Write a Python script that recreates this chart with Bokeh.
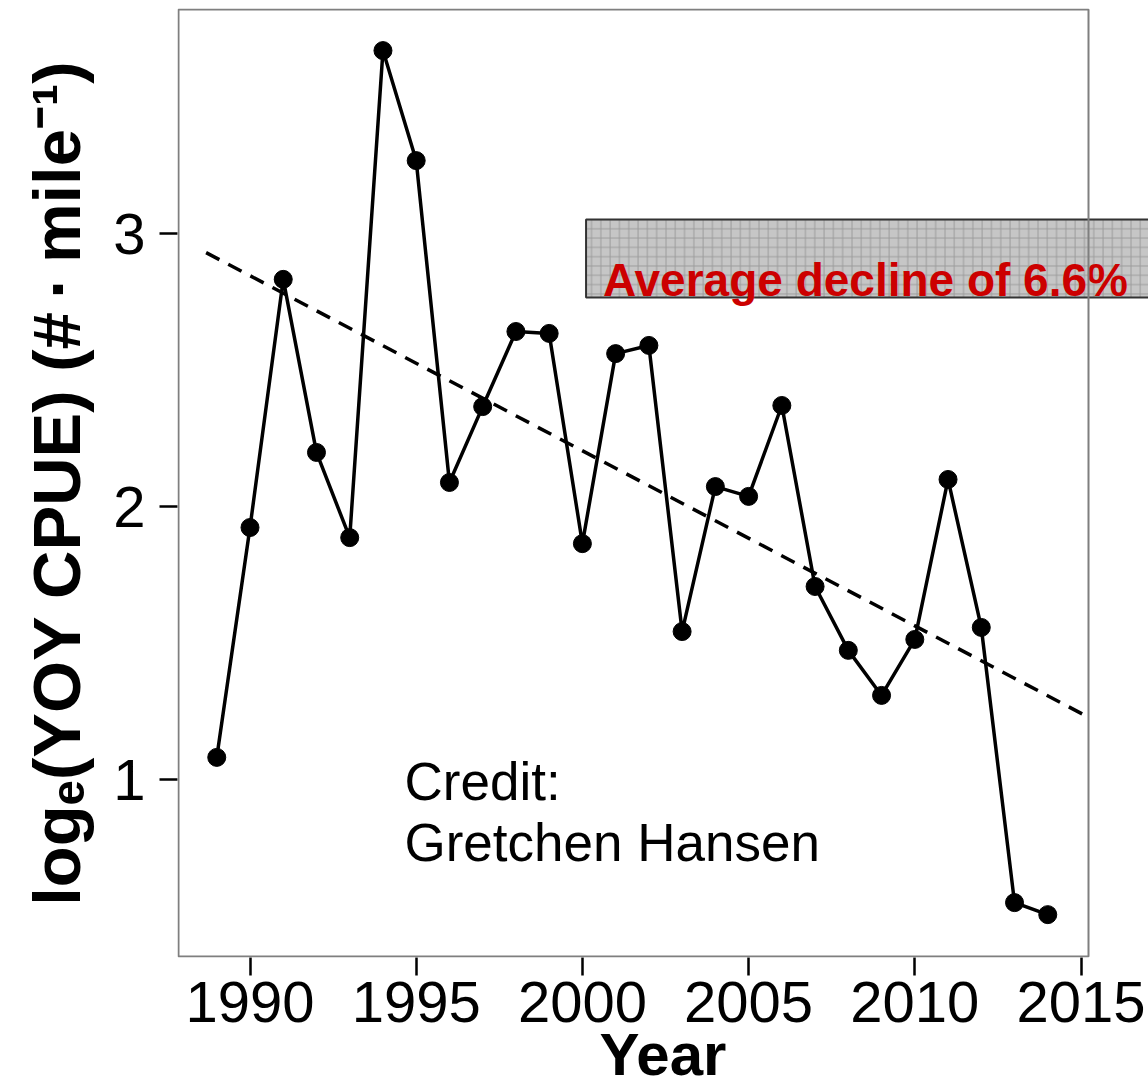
from bokeh.plotting import figure
from bokeh.models import Range1d, FixedTicker, Label, BoxAnnotation
from bokeh.embed import file_html
from bokeh.resources import INLINE

# ---- data ----
years = [1989, 1990, 1991, 1992, 1993, 1994, 1995, 1996, 1997, 1998, 1999, 2000, 2001,
         2002, 2003, 2004, 2005, 2006, 2007, 2008, 2009, 2010, 2011, 2012, 2013, 2014]
log_cpue = [1.081, 1.923, 2.832, 2.198, 1.886, 3.670, 3.267, 2.088, 2.366, 2.641, 2.634,
            1.864, 2.560, 2.590, 1.542, 2.073, 2.037, 2.370, 1.707, 1.473, 1.308, 1.513,
            2.099, 1.557, 0.549, 0.505]
trend_years = [1988.68, 2015.18]
trend_vals = [2.930, 1.231]
x_ticks = [1990, 1995, 2000, 2005, 2010, 2015]
y_ticks = [1, 2, 3]
note_text = "Average decline of 6.6%"
credit_lines = ["Credit:", "Gretchen Hansen"]
x_title = "Year"
y_title = "log\u2091(YOY CPUE) (#\u2009\u00b7\u2009mile\u207b\u00b9)"

FONT = "Liberation Sans"
W, H = 1148, 1092

# ---- geometry (page pixels) ----
FRAME_L, FRAME_T, FRAME_B = 177, 8, 957
PANEL_R = 1088
PX_PER_YEAR = 33.24
X0 = 1990 - (249.5 - FRAME_L) / PX_PER_YEAR
X1 = 1990 + (W - 249.5) / PX_PER_YEAR
PANEL_X1 = 1990 + (PANEL_R - 249.5) / PX_PER_YEAR
PX_PER_UNIT = 273.0
Y0 = 1 - (FRAME_B - 779) / PX_PER_UNIT
Y1 = 3 + (233 - FRAME_T) / PX_PER_UNIT

p = figure(width=W, height=H, output_backend="svg", toolbar_location=None,
           x_range=Range1d(X0, X1), y_range=Range1d(Y0, Y1),
           min_border_left=FRAME_L, min_border_right=0,
           min_border_top=FRAME_T, min_border_bottom=H - FRAME_B)
p.background_fill_color = "white"
p.border_fill_color = "white"
p.outline_line_color = None
p.xgrid.visible = False
p.ygrid.visible = False

for ax, ticks in ((p.xaxis[0], x_ticks), (p.yaxis[0], y_ticks)):
    ax.ticker = FixedTicker(ticks=ticks)
    ax.axis_line_color = None
    ax.major_tick_line_color = "black"
    ax.major_tick_line_width = 2.5
    ax.major_tick_out = 18
    ax.major_tick_in = 0
    ax.minor_tick_line_color = None
    ax.major_label_text_font = FONT
    ax.major_label_text_font_size = "58px"
    ax.major_label_text_color = "black"
    ax.axis_label_text_font = FONT
    ax.axis_label_text_font_style = "bold"
    ax.axis_label_text_color = "black"
p.xaxis.major_label_standoff = 6
p.yaxis.major_label_standoff = 14
p.xaxis.axis_label = x_title
p.xaxis.axis_label_text_font_size = "60px"
p.xaxis.axis_label_standoff = -4
p.yaxis.axis_label = y_title
p.yaxis.axis_label_text_font_size = "67px"
p.yaxis.axis_label_standoff = 16

# note box (extends past the panel border, cut by the page edge)
p.add_layout(BoxAnnotation(left=2000.11, right=X1 + 2, bottom=2.766, top=3.051,
                           fill_color="#c6c6c6", fill_alpha=1.0,
                           line_color="#333333", line_alpha=1.0, line_width=2,
                           hatch_pattern="+", hatch_color="#9c9c9c", hatch_scale=9.3,
                           hatch_weight=1, hatch_alpha=1.0, level="underlay"))

# panel border (ends at the panel's right edge)
half_px_x = 1.0 / PX_PER_YEAR
half_px_y = 1.0 / PX_PER_UNIT
p.add_layout(BoxAnnotation(left=X0 + half_px_x, right=PANEL_X1, bottom=Y0 + half_px_y,
                           top=Y1 - half_px_y, fill_alpha=0, line_color="#7f7f7f",
                           line_alpha=1.0, line_width=2, level="overlay"))

# trend line
p.line(trend_years, trend_vals, line_color="black", line_width=3.5, line_dash="15 10")
# series
p.line(years, log_cpue, line_color="black", line_width=3.5)
p.scatter(years, log_cpue, size=18, fill_color="black", line_color="black")

p.add_layout(Label(x=2000.62, y=2.830, text=note_text, text_font=FONT,
                   text_font_style="bold", text_font_size="46px", text_color="#CC0000",
                   text_baseline="alphabetic", text_align="left"))

credit_x = 1990 + (404 - 249.5) / PX_PER_YEAR
p.add_layout(Label(x=credit_x, y=1 - (781 - 779) / PX_PER_UNIT, text=credit_lines[0],
                   text_font=FONT, text_font_size="53px", text_color="black",
                   text_baseline="alphabetic"))
p.add_layout(Label(x=credit_x, y=1 - (842 - 779) / PX_PER_UNIT, text=credit_lines[1],
                   text_font=FONT, text_font_size="53px", text_color="black",
                   text_baseline="alphabetic"))

open("out.html", "w").write(file_html(p, INLINE))
